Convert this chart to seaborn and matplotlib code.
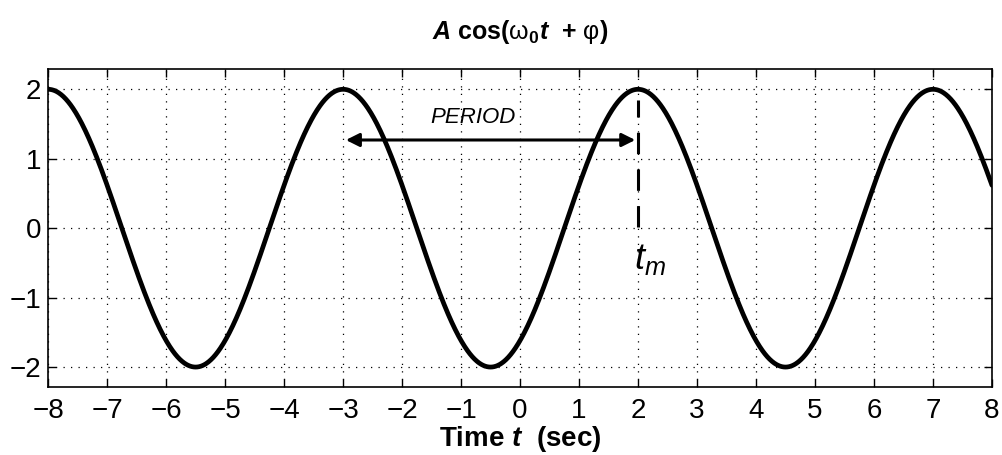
import numpy as np
import pandas as pd
import seaborn as sns
import matplotlib
matplotlib.use("Agg")
import matplotlib.pyplot as plt

# values
amplitude = 2.0
period = 5.0
t_peak = 2.0          # t_m
t_range = [-8, 8]
xticks = list(range(-8, 9))
yticks = [-2, -1, 0, 1, 2]
arrow_y = 1.27
arrow_start = t_peak - period

t = np.linspace(t_range[0], t_range[1], 1601)
df = pd.DataFrame({"t": t, "x": amplitude * np.cos(2 * np.pi / period * (t - t_peak))})

sns.set_style("ticks")
plt.rcParams["font.family"] = ["Liberation Sans", "DejaVu Sans"]
plt.rcParams["text.color"] = "black"
plt.rcParams["axes.labelcolor"] = "black"
plt.rcParams["xtick.color"] = "black"
plt.rcParams["ytick.color"] = "black"
plt.rcParams["axes.edgecolor"] = "black"
plt.rcParams["mathtext.fontset"] = "custom"
plt.rcParams["mathtext.rm"] = "Liberation Sans"
plt.rcParams["mathtext.it"] = "Liberation Sans:italic"
plt.rcParams["mathtext.bf"] = "Liberation Sans:bold"
plt.rcParams["mathtext.bfit"] = "Liberation Sans:bold:italic"

fig = plt.figure(figsize=(10.03, 4.55), dpi=100)
ax = fig.add_axes([0.048, 0.149, 0.941, 0.699])

sns.lineplot(data=df, x="t", y="x", ax=ax, color="black", linewidth=3.4)

ax.set_xlim(t_range)
ax.set_ylim(-2.29, 2.29)
ax.set_xticks(xticks)
ax.set_yticks(yticks)
ax.set_xticklabels([str(v).replace("-", "\u2212") for v in xticks])
ax.set_yticklabels([str(v).replace("-", "\u2212") for v in yticks])
ax.tick_params(direction="in", length=6, width=1, labelsize=20, top=True, right=True, pad=5)
ax.tick_params(axis="x", pad=8)
ax.grid(True, linestyle=(0, (1, 5)), color="black", linewidth=0.9)
for s in ax.spines.values():
    s.set_linewidth(1.2)

ax.set_xlabel(r"$\mathbf{Time}\ \mathbfit{t}\ \ \mathbf{(sec)}$", fontsize=20, labelpad=0)
ax.set_ylabel("")
ax.set_title(r"$\mathbfit{A}\ \mathbf{cos(}\mathrm{ω}_{\mathbf{0}}\mathbfit{t}\ \ \mathbf{+}\ \mathrm{φ}\mathbf{)}$",
             fontsize=18, pad=22)

# hand drawn notes
ax.annotate("", xy=(t_peak, arrow_y), xytext=(arrow_start, arrow_y),
            arrowprops=dict(arrowstyle="<|-|>", color="black", lw=2.2, mutation_scale=20))
ax.plot([t_peak, t_peak], [0.02, 1.85], color="black", lw=2.2, dashes=(7, 5))
ax.text(-0.8, 1.6, "PERIOD", fontsize=16, ha="center", va="center", style="italic")
ax.text(t_peak + 0.2, -0.45, r"$t_m$", fontsize=26, ha="center", va="center")

fig.savefig("out.png", dpi=100)
